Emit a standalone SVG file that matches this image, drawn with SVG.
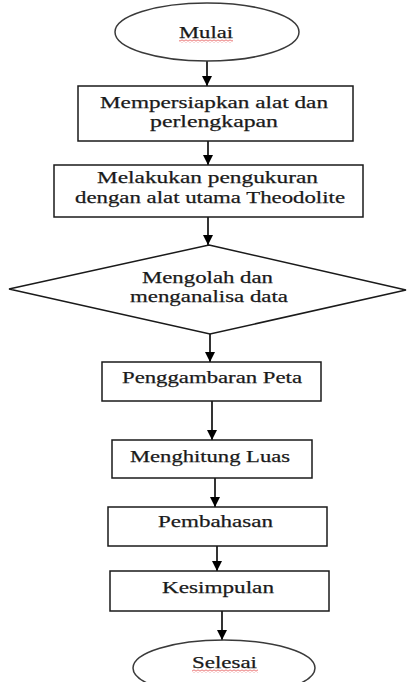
<svg xmlns="http://www.w3.org/2000/svg" width="408" height="682" viewBox="0 0 408 682">
  <style>
    .shape { fill: #ffffff; stroke: #1a1a1a; stroke-width: 1.5; }
    .oval { fill: #ffffff; stroke: #3a3a3a; stroke-width: 1.5; }
    .lbl { font-family: "Liberation Serif", "Times New Roman", serif; font-size: 17.5px; fill: #1a1a1a; stroke: #1a1a1a; stroke-width: 0.25; text-anchor: middle; }
    .conn { stroke: #000000; stroke-width: 1.6; fill: none; marker-end: url(#arrow); }
  </style>
  <defs>
    <marker id="arrow" viewBox="0 0 10 10" refX="10" refY="5" markerWidth="10" markerHeight="10" markerUnits="userSpaceOnUse" orient="auto">
      <path d="M0,0 L10,5 L0,10 z" fill="#000000"/>
    </marker>
    <pattern id="squiggle" x="0" y="0" width="4" height="3" patternUnits="userSpaceOnUse">
      <path d="M0,2.5 L2,0.5 L4,2.5" fill="none" stroke="#e03030" stroke-width="0.9"/>
    </pattern>
  </defs>
  <rect width="408" height="682" fill="#ffffff"/>

  <g id="connectors">
    <line class="conn" x1="207" y1="61" x2="207" y2="86"/>
    <line class="conn" x1="208" y1="141" x2="208" y2="165"/>
    <line class="conn" x1="208" y1="217" x2="208" y2="245"/>
    <line class="conn" x1="210" y1="334" x2="210" y2="362"/>
    <line class="conn" x1="212" y1="401" x2="212" y2="440"/>
    <line class="conn" x1="215" y1="478" x2="215" y2="507"/>
    <line class="conn" x1="217" y1="546" x2="217" y2="571"/>
    <line class="conn" x1="222" y1="611" x2="222" y2="640"/>
  </g>

  <g id="mulai">
    <ellipse class="oval" cx="207" cy="32" rx="92" ry="29"/>
    <text class="lbl" x="206" y="38" textLength="54" lengthAdjust="spacingAndGlyphs">Mulai</text>
    <rect x="179" y="39.5" width="54" height="3" fill="url(#squiggle)"/>
  </g>

  <g id="persiapan">
    <rect class="shape" x="78" y="86" width="275" height="55"/>
    <text class="lbl" x="214" y="108" textLength="228" lengthAdjust="spacingAndGlyphs">Mempersiapkan alat dan</text>
    <text class="lbl" x="214" y="127" textLength="128" lengthAdjust="spacingAndGlyphs">perlengkapan</text>
  </g>

  <g id="pengukuran">
    <rect class="shape" x="54" y="165" width="309" height="52"/>
    <text class="lbl" x="207.5" y="183" textLength="221" lengthAdjust="spacingAndGlyphs">Melakukan pengukuran</text>
    <text class="lbl" x="210" y="203" textLength="270" lengthAdjust="spacingAndGlyphs">dengan alat utama Theodolite</text>
  </g>

  <g id="olah-data">
    <polygon class="shape" points="209,245 406,290 210,334 9,289"/>
    <text class="lbl" x="207.5" y="283" textLength="131" lengthAdjust="spacingAndGlyphs">Mengolah dan</text>
    <text class="lbl" x="209" y="302" textLength="158" lengthAdjust="spacingAndGlyphs">menganalisa data</text>
  </g>

  <g id="peta">
    <rect class="shape" x="102" y="362" width="219" height="39"/>
    <text class="lbl" x="212" y="383" textLength="180" lengthAdjust="spacingAndGlyphs">Penggambaran Peta</text>
  </g>

  <g id="luas">
    <rect class="shape" x="112" y="440" width="200" height="38"/>
    <text class="lbl" x="210" y="462" textLength="160" lengthAdjust="spacingAndGlyphs">Menghitung Luas</text>
  </g>

  <g id="pembahasan">
    <rect class="shape" x="108" y="507" width="219" height="39"/>
    <text class="lbl" x="215.5" y="527" textLength="115" lengthAdjust="spacingAndGlyphs">Pembahasan</text>
  </g>

  <g id="kesimpulan">
    <rect class="shape" x="110" y="571" width="219" height="40"/>
    <text class="lbl" x="218" y="593" textLength="112" lengthAdjust="spacingAndGlyphs">Kesimpulan</text>
  </g>

  <g id="selesai">
    <ellipse class="oval" cx="224" cy="668" rx="91" ry="28"/>
    <text class="lbl" x="224.5" y="668" textLength="65" lengthAdjust="spacingAndGlyphs">Selesai</text>
    <rect x="192" y="669.5" width="66" height="3" fill="url(#squiggle)"/>
  </g>
</svg>
